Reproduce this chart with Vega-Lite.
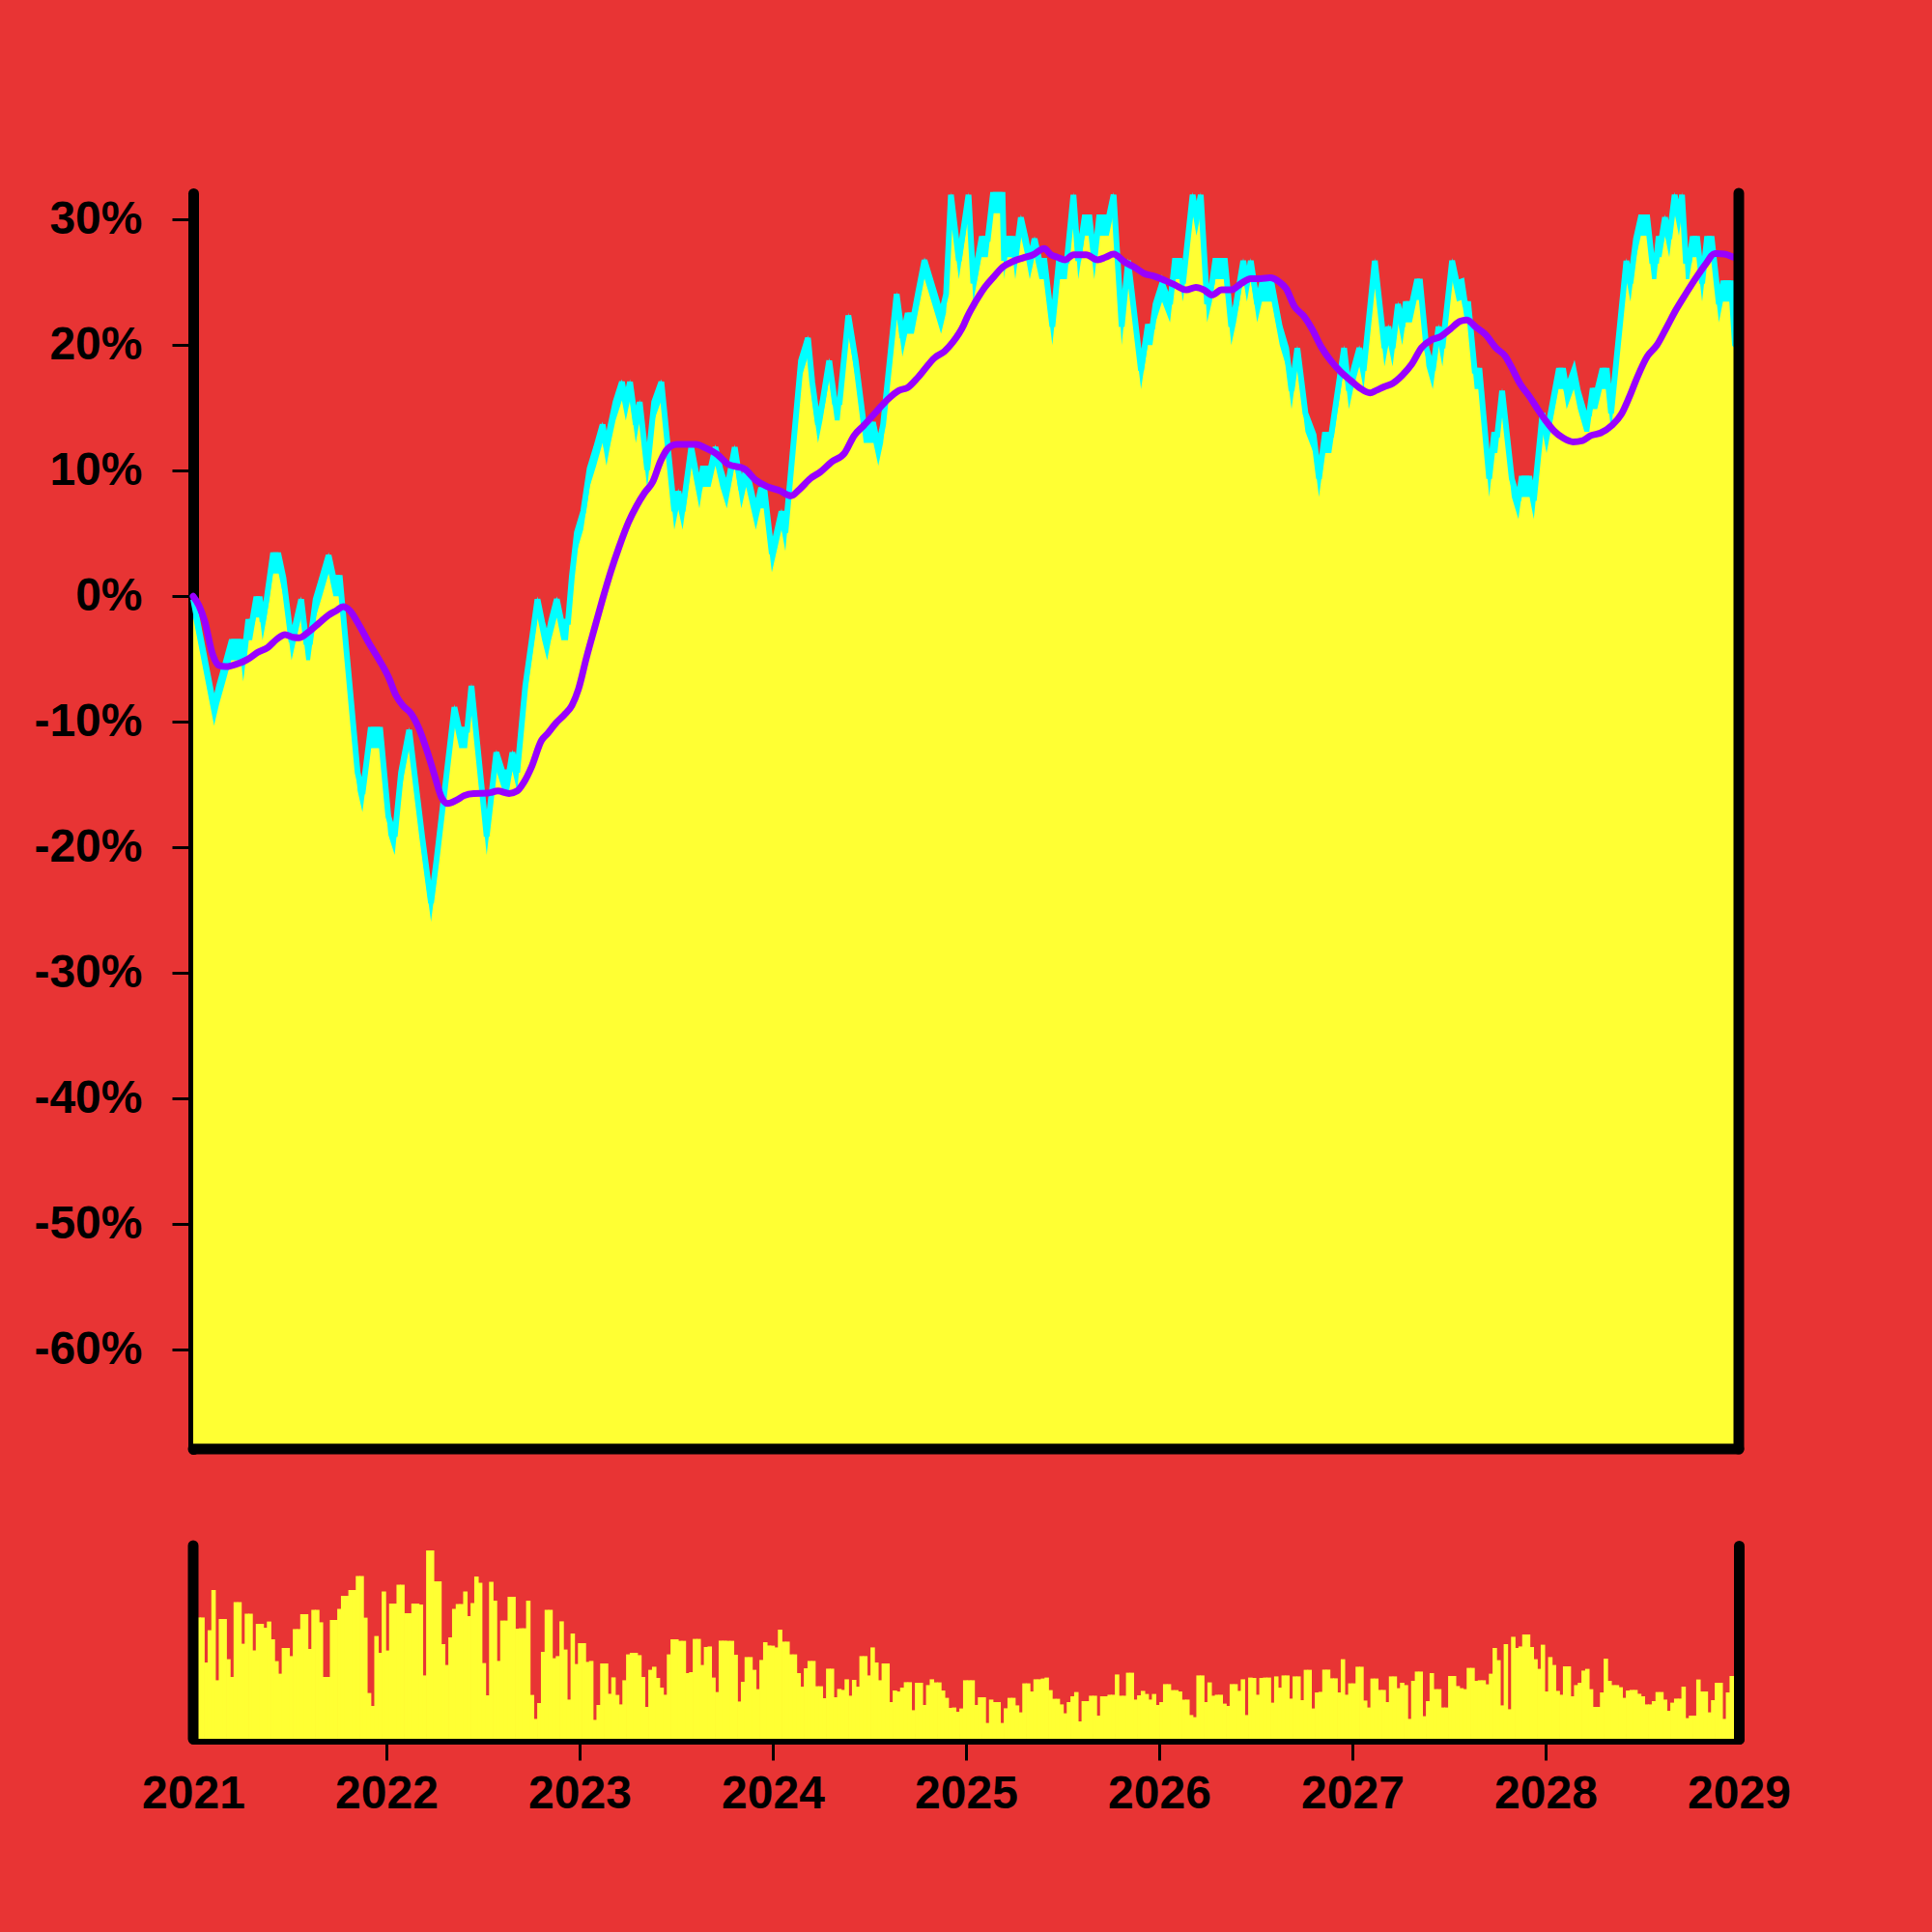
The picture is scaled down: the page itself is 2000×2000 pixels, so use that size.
{
"$schema": "https://vega.github.io/schema/vega-lite/v6.json",
"width": 1600, "height": 1600,
"autosize": {"type": "none"},
"padding": {"left": 200, "right": 200, "top": 200, "bottom": 200},
"background": "#E83434",
"config": {
 "view": {"stroke": null},
 "axis": {"domainColor": "black", "domainWidth": 11, "domainCap": "round", "tickColor": "black", "tickWidth": 3, "tickSize": 22, "labelFont": "Liberation Sans", "labelFontWeight": "bold", "labelFontSize": 48, "labelColor": "black", "grid": false, "title": null, "zindex": 1, "labelFlush": false}
},
"datasets": {
 "price": [
  {"t":2021.000,"p":0},{"t":2021.108,"p":-8.6},{"t":2021.134,"p":-6.9},{"t":2021.167,"p":-5.1},{"t":2021.197,"p":-3.4},{"t":2021.247,"p":-3.4},{"t":2021.259,"p":-5.1},{"t":2021.284,"p":-1.8},{"t":2021.305,"p":-1.8},{"t":2021.325,"p":0},{"t":2021.345,"p":0},{"t":2021.359,"p":-1.8},{"t":2021.380,"p":0},{"t":2021.412,"p":3.5},{"t":2021.442,"p":3.5},{"t":2021.467,"p":1.7},{"t":2021.509,"p":-3.4},{"t":2021.559,"p":0},{"t":2021.585,"p":-3.4},{"t":2021.605,"p":-3.4},{"t":2021.634,"p":0},{"t":2021.667,"p":1.7},{"t":2021.701,"p":3.5},{"t":2021.726,"p":1.7},{"t":2021.759,"p":1.7},{"t":2021.851,"p":-13.8},{"t":2021.876,"p":-15.5},{"t":2021.918,"p":-10.4},{"t":2021.968,"p":-10.4},{"t":2022.010,"p":-17.3},{"t":2022.043,"p":-18.9},{"t":2022.076,"p":-13.8},{"t":2022.118,"p":-10.4},{"t":2022.185,"p":-18.9},{"t":2022.231,"p":-24.2},{"t":2022.260,"p":-20.7},{"t":2022.352,"p":-8.6},{"t":2022.377,"p":-10.4},{"t":2022.418,"p":-10.4},{"t":2022.440,"p":-6.9},{"t":2022.519,"p":-18.9},{"t":2022.569,"p":-12.2},{"t":2022.602,"p":-13.8},{"t":2022.635,"p":-13.8},{"t":2022.652,"p":-12.2},{"t":2022.677,"p":-13.8},{"t":2022.719,"p":-6.9},{"t":2022.782,"p":0},{"t":2022.806,"p":-1.8},{"t":2022.832,"p":-3.4},{"t":2022.852,"p":-1.8},{"t":2022.882,"p":0},{"t":2022.906,"p":-1.8},{"t":2022.940,"p":-1.8},{"t":2022.960,"p":1.8},{"t":2022.986,"p":5.3},{"t":2023.019,"p":7.0},{"t":2023.052,"p":10.4},{"t":2023.086,"p":12.1},{"t":2023.119,"p":13.9},{"t":2023.139,"p":12.1},{"t":2023.161,"p":13.9},{"t":2023.186,"p":15.7},{"t":2023.219,"p":17.3},{"t":2023.239,"p":15.7},{"t":2023.261,"p":17.3},{"t":2023.291,"p":13.9},{"t":2023.311,"p":15.7},{"t":2023.350,"p":10.3},{"t":2023.386,"p":15.7},{"t":2023.423,"p":17.3},{"t":2023.490,"p":7.0},{"t":2023.511,"p":8.6},{"t":2023.533,"p":7.0},{"t":2023.578,"p":12.1},{"t":2023.620,"p":8.7},{"t":2023.637,"p":10.4},{"t":2023.678,"p":10.4},{"t":2023.703,"p":12.1},{"t":2023.728,"p":10.4},{"t":2023.762,"p":8.7},{"t":2023.803,"p":12.1},{"t":2023.837,"p":8.7},{"t":2023.862,"p":10.4},{"t":2023.912,"p":7.0},{"t":2023.937,"p":8.7},{"t":2023.957,"p":8.7},{"t":2023.995,"p":3.6},{"t":2024.020,"p":5.3},{"t":2024.045,"p":7.0},{"t":2024.065,"p":5.3},{"t":2024.146,"p":19.0},{"t":2024.182,"p":20.8},{"t":2024.204,"p":17.3},{"t":2024.234,"p":13.9},{"t":2024.257,"p":15.7},{"t":2024.292,"p":19.0},{"t":2024.321,"p":15.7},{"t":2024.346,"p":15.7},{"t":2024.391,"p":22.6},{"t":2024.429,"p":19.0},{"t":2024.471,"p":13.9},{"t":2024.521,"p":13.9},{"t":2024.546,"p":12.1},{"t":2024.571,"p":13.9},{"t":2024.641,"p":24.3},{"t":2024.671,"p":20.8},{"t":2024.696,"p":22.6},{"t":2024.730,"p":22.6},{"t":2024.751,"p":24.3},{"t":2024.785,"p":27.0},{"t":2024.838,"p":24.3},{"t":2024.871,"p":22.6},{"t":2024.897,"p":24.3},{"t":2024.922,"p":32.2},{"t":2024.963,"p":26.95},{"t":2025.013,"p":32.2},{"t":2025.038,"p":25.15},{"t":2025.080,"p":28.7},{"t":2025.113,"p":28.7},{"t":2025.139,"p":32.2},{"t":2025.189,"p":32.2},{"t":2025.197,"p":26.95},{"t":2025.210,"p":28.7},{"t":2025.242,"p":28.7},{"t":2025.255,"p":26.95},{"t":2025.284,"p":30.4},{"t":2025.309,"p":28.7},{"t":2025.330,"p":26.95},{"t":2025.355,"p":28.7},{"t":2025.380,"p":26.95},{"t":2025.406,"p":26.95},{"t":2025.447,"p":21.7},{"t":2025.481,"p":26.95},{"t":2025.522,"p":26.95},{"t":2025.556,"p":32.2},{"t":2025.581,"p":26.95},{"t":2025.614,"p":30.4},{"t":2025.639,"p":30.4},{"t":2025.664,"p":26.95},{"t":2025.689,"p":30.4},{"t":2025.739,"p":30.4},{"t":2025.764,"p":32.2},{"t":2025.806,"p":21.7},{"t":2025.839,"p":26.95},{"t":2025.906,"p":18.2},{"t":2025.940,"p":21.7},{"t":2025.965,"p":21.7},{"t":2025.981,"p":23.5},{"t":2026.015,"p":25.15},{"t":2026.056,"p":23.5},{"t":2026.081,"p":26.95},{"t":2026.106,"p":26.95},{"t":2026.123,"p":25.15},{"t":2026.173,"p":32.2},{"t":2026.193,"p":30.4},{"t":2026.215,"p":32.2},{"t":2026.248,"p":23.5},{"t":2026.273,"p":25.15},{"t":2026.290,"p":26.95},{"t":2026.340,"p":26.95},{"t":2026.373,"p":21.7},{"t":2026.398,"p":23.5},{"t":2026.435,"p":26.95},{"t":2026.454,"p":25.15},{"t":2026.474,"p":26.95},{"t":2026.507,"p":23.5},{"t":2026.532,"p":25.15},{"t":2026.582,"p":25.15},{"t":2026.624,"p":21.7},{"t":2026.657,"p":20.0},{"t":2026.685,"p":16.6},{"t":2026.715,"p":20.0},{"t":2026.757,"p":14.8},{"t":2026.799,"p":13.1},{"t":2026.827,"p":9.6},{"t":2026.857,"p":13.1},{"t":2026.891,"p":13.1},{"t":2026.907,"p":14.8},{"t":2026.957,"p":20.0},{"t":2026.982,"p":16.6},{"t":2027.004,"p":18.2},{"t":2027.036,"p":20.0},{"t":2027.058,"p":18.2},{"t":2027.116,"p":26.95},{"t":2027.166,"p":20.0},{"t":2027.186,"p":21.7},{"t":2027.208,"p":20.0},{"t":2027.236,"p":23.5},{"t":2027.258,"p":21.7},{"t":2027.275,"p":23.5},{"t":2027.308,"p":23.5},{"t":2027.333,"p":25.3},{"t":2027.350,"p":25.3},{"t":2027.383,"p":20.0},{"t":2027.416,"p":18.2},{"t":2027.446,"p":21.7},{"t":2027.466,"p":20.0},{"t":2027.516,"p":26.95},{"t":2027.541,"p":25.15},{"t":2027.566,"p":25.3},{"t":2027.583,"p":23.5},{"t":2027.600,"p":23.5},{"t":2027.633,"p":18.2},{"t":2027.658,"p":18.2},{"t":2027.708,"p":9.6},{"t":2027.733,"p":13.1},{"t":2027.750,"p":13.1},{"t":2027.775,"p":16.6},{"t":2027.825,"p":9.6},{"t":2027.859,"p":7.85},{"t":2027.875,"p":9.6},{"t":2027.917,"p":9.6},{"t":2027.939,"p":7.85},{"t":2027.984,"p":14.8},{"t":2028.005,"p":13.1},{"t":2028.026,"p":14.8},{"t":2028.067,"p":18.2},{"t":2028.092,"p":18.2},{"t":2028.109,"p":16.6},{"t":2028.146,"p":18.2},{"t":2028.167,"p":16.6},{"t":2028.201,"p":14.8},{"t":2028.226,"p":14.8},{"t":2028.242,"p":16.6},{"t":2028.267,"p":16.6},{"t":2028.292,"p":18.2},{"t":2028.317,"p":18.2},{"t":2028.339,"p":14.8},{"t":2028.418,"p":26.95},{"t":2028.439,"p":25.15},{"t":2028.468,"p":28.7},{"t":2028.493,"p":30.4},{"t":2028.526,"p":30.4},{"t":2028.551,"p":26.95},{"t":2028.573,"p":26.95},{"t":2028.584,"p":28.7},{"t":2028.600,"p":28.7},{"t":2028.618,"p":30.4},{"t":2028.640,"p":28.7},{"t":2028.668,"p":32.2},{"t":2028.690,"p":30.4},{"t":2028.706,"p":32.2},{"t":2028.726,"p":26.95},{"t":2028.743,"p":26.95},{"t":2028.760,"p":28.7},{"t":2028.785,"p":28.7},{"t":2028.810,"p":25.15},{"t":2028.835,"p":28.7},{"t":2028.860,"p":28.7},{"t":2028.897,"p":23.5},{"t":2028.918,"p":25.15},{"t":2028.960,"p":25.15},{"t":2028.980,"p":20.3},{"t":2029.000,"p":20.0}
 ],
 "ma": [
  {"t":2021.000,"m":0},{"t":2021.030,"m":-0.74},{"t":2021.060,"m":-2.0},{"t":2021.100,"m":-4.6},{"t":2021.133,"m":-5.5},{"t":2021.167,"m":-5.6},{"t":2021.242,"m":-5.3},{"t":2021.284,"m":-5.0},{"t":2021.334,"m":-4.46},{"t":2021.384,"m":-4.1},{"t":2021.434,"m":-3.4},{"t":2021.475,"m":-3.05},{"t":2021.517,"m":-3.26},{"t":2021.550,"m":-3.3},{"t":2021.600,"m":-2.8},{"t":2021.650,"m":-2.15},{"t":2021.700,"m":-1.5},{"t":2021.742,"m":-1.13},{"t":2021.776,"m":-0.82},{"t":2021.810,"m":-1.13},{"t":2021.859,"m":-2.3},{"t":2021.909,"m":-3.7},{"t":2021.960,"m":-5.0},{"t":2022.010,"m":-6.4},{"t":2022.050,"m":-7.9},{"t":2022.085,"m":-8.7},{"t":2022.126,"m":-9.3},{"t":2022.168,"m":-10.5},{"t":2022.210,"m":-12.3},{"t":2022.250,"m":-14.3},{"t":2022.285,"m":-16.0},{"t":2022.318,"m":-16.5},{"t":2022.360,"m":-16.26},{"t":2022.402,"m":-15.87},{"t":2022.452,"m":-15.7},{"t":2022.527,"m":-15.67},{"t":2022.577,"m":-15.5},{"t":2022.635,"m":-15.7},{"t":2022.677,"m":-15.5},{"t":2022.710,"m":-14.85},{"t":2022.752,"m":-13.56},{"t":2022.802,"m":-11.5},{"t":2022.836,"m":-10.9},{"t":2022.877,"m":-10.1},{"t":2022.919,"m":-9.46},{"t":2022.960,"m":-8.7},{"t":2022.994,"m":-7.4},{"t":2023.036,"m":-4.85},{"t":2023.078,"m":-2.5},{"t":2023.119,"m":-0.23},{"t":2023.161,"m":1.95},{"t":2023.203,"m":3.87},{"t":2023.253,"m":5.9},{"t":2023.295,"m":7.2},{"t":2023.336,"m":8.23},{"t":2023.378,"m":9.1},{"t":2023.420,"m":10.8},{"t":2023.453,"m":11.7},{"t":2023.503,"m":12.1},{"t":2023.553,"m":12.1},{"t":2023.603,"m":12.1},{"t":2023.653,"m":11.8},{"t":2023.712,"m":11.3},{"t":2023.770,"m":10.5},{"t":2023.853,"m":10.15},{"t":2023.912,"m":9.25},{"t":2023.970,"m":8.74},{"t":2024.037,"m":8.4},{"t":2024.095,"m":8.0},{"t":2024.137,"m":8.5},{"t":2024.196,"m":9.4},{"t":2024.246,"m":9.9},{"t":2024.304,"m":10.7},{"t":2024.371,"m":11.4},{"t":2024.421,"m":12.8},{"t":2024.471,"m":13.6},{"t":2024.530,"m":14.6},{"t":2024.596,"m":15.7},{"t":2024.654,"m":16.4},{"t":2024.696,"m":16.6},{"t":2024.755,"m":17.5},{"t":2024.838,"m":19.0},{"t":2024.888,"m":19.5},{"t":2024.930,"m":20.2},{"t":2024.988,"m":21.6},{"t":2025.005,"m":22.2},{"t":2025.047,"m":23.4},{"t":2025.097,"m":24.6},{"t":2025.147,"m":25.5},{"t":2025.189,"m":26.2},{"t":2025.247,"m":26.7},{"t":2025.297,"m":26.95},{"t":2025.347,"m":27.2},{"t":2025.405,"m":27.7},{"t":2025.439,"m":27.2},{"t":2025.472,"m":27.0},{"t":2025.514,"m":26.8},{"t":2025.556,"m":27.2},{"t":2025.622,"m":27.2},{"t":2025.681,"m":26.8},{"t":2025.723,"m":27.0},{"t":2025.764,"m":27.25},{"t":2025.823,"m":26.6},{"t":2025.873,"m":26.2},{"t":2025.923,"m":25.7},{"t":2025.973,"m":25.5},{"t":2026.031,"m":25.15},{"t":2026.081,"m":24.8},{"t":2026.140,"m":24.4},{"t":2026.190,"m":24.6},{"t":2026.232,"m":24.4},{"t":2026.273,"m":24.0},{"t":2026.323,"m":24.4},{"t":2026.373,"m":24.4},{"t":2026.423,"m":24.9},{"t":2026.474,"m":25.3},{"t":2026.524,"m":25.3},{"t":2026.574,"m":25.36},{"t":2026.624,"m":25.0},{"t":2026.657,"m":24.5},{"t":2026.699,"m":23.1},{"t":2026.749,"m":22.3},{"t":2026.791,"m":21.3},{"t":2026.841,"m":19.8},{"t":2026.891,"m":18.7},{"t":2026.941,"m":17.85},{"t":2026.990,"m":17.2},{"t":2027.041,"m":16.56},{"t":2027.091,"m":16.2},{"t":2027.124,"m":16.4},{"t":2027.166,"m":16.7},{"t":2027.208,"m":16.95},{"t":2027.258,"m":17.6},{"t":2027.308,"m":18.5},{"t":2027.358,"m":19.8},{"t":2027.408,"m":20.4},{"t":2027.458,"m":20.7},{"t":2027.508,"m":21.3},{"t":2027.558,"m":21.9},{"t":2027.591,"m":22.0},{"t":2027.642,"m":21.4},{"t":2027.692,"m":20.8},{"t":2027.742,"m":19.8},{"t":2027.792,"m":19.1},{"t":2027.825,"m":18.2},{"t":2027.867,"m":16.95},{"t":2027.917,"m":15.9},{"t":2027.959,"m":14.9},{"t":2028.000,"m":14.0},{"t":2028.042,"m":13.2},{"t":2028.092,"m":12.6},{"t":2028.142,"m":12.3},{"t":2028.192,"m":12.4},{"t":2028.234,"m":12.8},{"t":2028.284,"m":13.0},{"t":2028.342,"m":13.6},{"t":2028.392,"m":14.5},{"t":2028.434,"m":15.9},{"t":2028.476,"m":17.5},{"t":2028.526,"m":19.1},{"t":2028.576,"m":20.0},{"t":2028.626,"m":21.4},{"t":2028.676,"m":22.85},{"t":2028.726,"m":24.1},{"t":2028.776,"m":25.3},{"t":2028.826,"m":26.4},{"t":2028.876,"m":27.3},{"t":2028.926,"m":27.25},{"t":2028.976,"m":27.0},{"t":2029.000,"m":26.9}
 ],
 "vol": [
  {"w":0,"v":62.8},{"w":1,"v":62.8},{"w":2,"v":62.8},{"w":3,"v":39.5},{"w":4,"v":56.2},{"w":5,"v":77},{"w":6,"v":30.3},{"w":7,"v":62},{"w":8,"v":62},{"w":9,"v":41.2},
  {"w":10,"v":32},{"w":11,"v":70.8},{"w":12,"v":70.8},{"w":13,"v":49.2},{"w":14,"v":64.8},{"w":15,"v":64.8},{"w":16,"v":45.7},{"w":17,"v":59.5},{"w":18,"v":59.5},{"w":19,"v":57.5},
  {"w":20,"v":60.7},{"w":21,"v":51.5},{"w":22,"v":40.2},{"w":23,"v":33.7},{"w":24,"v":47},{"w":25,"v":47},{"w":26,"v":42.8},{"w":27,"v":56.8},{"w":28,"v":56.8},{"w":29,"v":64.5},
  {"w":30,"v":64.5},{"w":31,"v":46.5},{"w":32,"v":66.7},{"w":33,"v":66.7},{"w":34,"v":60.3},{"w":35,"v":32},{"w":36,"v":32},{"w":37,"v":61.5},{"w":38,"v":61.5},{"w":39,"v":67.2},
  {"w":40,"v":74},{"w":41,"v":74},{"w":42,"v":77},{"w":43,"v":77},{"w":44,"v":84.2},{"w":45,"v":84.2},{"w":46,"v":62.7},{"w":47,"v":23.7},{"w":48,"v":17},{"w":49,"v":53.2},
  {"w":50,"v":44.5},{"w":51,"v":76.3},{"w":52,"v":45.7},{"w":53,"v":70},{"w":54,"v":70},{"w":55,"v":79.8},{"w":56,"v":79.8},{"w":57,"v":65},{"w":58,"v":65},{"w":59,"v":70},
  {"w":60,"v":70},{"w":61,"v":69.5},{"w":62,"v":32.8},{"w":63,"v":97.5},{"w":64,"v":97.5},{"w":65,"v":81.5},{"w":66,"v":81.5},{"w":67,"v":49},{"w":68,"v":38.2},{"w":69,"v":52.5},
  {"w":70,"v":67.3},{"w":71,"v":69.8},{"w":72,"v":69.8},{"w":73,"v":76.2},{"w":74,"v":63.5},{"w":75,"v":70.3},{"w":76,"v":84},{"w":77,"v":80.8},{"w":78,"v":39.2},{"w":79,"v":22.5},
  {"w":80,"v":81.2},{"w":81,"v":71.5},{"w":82,"v":40.3},{"w":83,"v":61.2},{"w":84,"v":61.2},{"w":85,"v":73.5},{"w":86,"v":73.5},{"w":87,"v":57},{"w":88,"v":57.2},{"w":89,"v":57.2},
  {"w":90,"v":71.5},{"w":91,"v":22.7},{"w":92,"v":10.3},{"w":93,"v":18.5},{"w":94,"v":45},{"w":95,"v":66.8},{"w":96,"v":66.8},{"w":97,"v":41.7},{"w":98,"v":42.8},{"w":99,"v":60.8},
  {"w":100,"v":46.2},{"w":101,"v":20.3},
  {"w":102,"v":54.5},{"w":103,"v":38.7},{"w":104,"v":49.5},{"w":105,"v":49.5},{"w":106,"v":39.8},{"w":107,"v":40.3},{"w":108,"v":9.8},{"w":109,"v":17.5},{"w":110,"v":39},{"w":111,"v":39},
  {"w":112,"v":23.3},{"w":113,"v":31.8},{"w":114,"v":22.7},{"w":115,"v":17.8},{"w":116,"v":30.3},{"w":117,"v":43.7},{"w":118,"v":44.5},{"w":119,"v":44.5},{"w":120,"v":43.3},{"w":121,"v":32},
  {"w":122,"v":16.5},{"w":123,"v":35.7},{"w":124,"v":37.3},{"w":125,"v":31.5},{"w":126,"v":26.5},{"w":127,"v":22.8},{"w":128,"v":43.7},{"w":129,"v":51.5},{"w":130,"v":51.5},{"w":131,"v":50.7},
  {"w":132,"v":50.7},{"w":133,"v":34},{"w":134,"v":34.5},{"w":135,"v":51.7},{"w":136,"v":51.7},{"w":137,"v":38.2},{"w":138,"v":47.5},{"w":139,"v":47.8},{"w":140,"v":31.7},{"w":141,"v":24.2},
  {"w":142,"v":50.8},{"w":143,"v":50.8},{"w":144,"v":50.7},{"w":145,"v":50.7},{"w":146,"v":43.5},{"w":147,"v":19.3},{"w":148,"v":29.5},{"w":149,"v":42.3},{"w":150,"v":42.3},{"w":151,"v":35.7},
  {"w":152,"v":25.7},{"w":153,"v":40.8},{"w":154,"v":50},{"w":155,"v":48.3},{"w":156,"v":48.2},{"w":157,"v":47.3},{"w":158,"v":56.5},{"w":159,"v":50.3},{"w":160,"v":50.3},{"w":161,"v":43.7},
  {"w":162,"v":43.7},{"w":163,"v":34},{"w":164,"v":27},{"w":165,"v":36.5},{"w":166,"v":40.3},{"w":167,"v":40.3},{"w":168,"v":27.2},{"w":169,"v":27.2},{"w":170,"v":21},{"w":171,"v":36.3},
  {"w":172,"v":36.3},{"w":173,"v":21.5},{"w":174,"v":25.8},{"w":175,"v":25.3},{"w":176,"v":30.8},{"w":177,"v":22.3},{"w":178,"v":30.5},{"w":179,"v":27},{"w":180,"v":42.8},{"w":181,"v":42.8},
  {"w":182,"v":32.8},{"w":183,"v":47.3},{"w":184,"v":39.5},{"w":185,"v":30.3},{"w":186,"v":39},{"w":187,"v":39},{"w":188,"v":19},{"w":189,"v":25},{"w":190,"v":24.5},{"w":191,"v":26.5},
  {"w":192,"v":29.3},{"w":193,"v":29.3},{"w":194,"v":14.8},{"w":195,"v":29},{"w":196,"v":29},{"w":197,"v":17.5},{"w":198,"v":27.8},{"w":199,"v":30.8},{"w":200,"v":29.2},{"w":201,"v":29.2},
  {"w":202,"v":25},{"w":203,"v":21.2},{"w":204,"v":16},{"w":205,"v":16.2},
  {"w":206,"v":14},{"w":207,"v":15.7},{"w":208,"v":30.3},{"w":209,"v":30.3},{"w":210,"v":30.3},{"w":211,"v":17.5},{"w":212,"v":21.5},{"w":213,"v":21.5},{"w":214,"v":8.2},{"w":215,"v":20.3},
  {"w":216,"v":19},{"w":217,"v":19},{"w":218,"v":8.2},{"w":219,"v":15.8},{"w":220,"v":21.2},{"w":221,"v":21.2},{"w":222,"v":17.3},{"w":223,"v":13.7},{"w":224,"v":28.7},{"w":225,"v":28.7},
  {"w":226,"v":24.5},{"w":227,"v":30.8},{"w":228,"v":30.8},{"w":229,"v":31.2},{"w":230,"v":31.7},{"w":231,"v":25.2},{"w":232,"v":20.7},{"w":233,"v":20.7},{"w":234,"v":17.8},{"w":235,"v":13.2},
  {"w":236,"v":19},{"w":237,"v":22},{"w":238,"v":24.2},{"w":239,"v":9},{"w":240,"v":19.5},{"w":241,"v":19.5},{"w":242,"v":22.3},{"w":243,"v":22.3},{"w":244,"v":12},{"w":245,"v":22},
  {"w":246,"v":22},{"w":247,"v":22.8},{"w":248,"v":22.8},{"w":249,"v":33.3},{"w":250,"v":22.3},{"w":251,"v":22.3},{"w":252,"v":34.2},{"w":253,"v":34.2},{"w":254,"v":20.3},{"w":255,"v":22.5},
  {"w":256,"v":24.8},{"w":257,"v":23.2},{"w":258,"v":20.3},{"w":259,"v":23.2},{"w":260,"v":17.5},{"w":261,"v":19},{"w":262,"v":28.3},{"w":263,"v":28.3},{"w":264,"v":25.2},{"w":265,"v":25.2},
  {"w":266,"v":24.5},{"w":267,"v":20.3},{"w":268,"v":20.3},{"w":269,"v":12.3},{"w":270,"v":11.2},{"w":271,"v":32.8},{"w":272,"v":32.8},{"w":273,"v":19},{"w":274,"v":29.2},{"w":275,"v":22.3},
  {"w":276,"v":22.8},{"w":277,"v":22.8},{"w":278,"v":18.2},{"w":279,"v":17},{"w":280,"v":28.3},{"w":281,"v":28.3},{"w":282,"v":24.8},{"w":283,"v":30.8},{"w":284,"v":12.3},{"w":285,"v":31.7},
  {"w":286,"v":31.5},{"w":287,"v":22.8},{"w":288,"v":31.5},{"w":289,"v":31.7},{"w":290,"v":31.7},{"w":291,"v":18.7},{"w":292,"v":32.3},{"w":293,"v":26.5},{"w":294,"v":32.8},{"w":295,"v":32.8},
  {"w":296,"v":20.8},{"w":297,"v":32.3},{"w":298,"v":32.3},{"w":299,"v":20},{"w":300,"v":35.7},{"w":301,"v":35.7},{"w":302,"v":15.7},{"w":303,"v":24},{"w":304,"v":24.3},{"w":305,"v":35.8},
  {"w":306,"v":35.8},{"w":307,"v":31.3},{"w":308,"v":31.3},{"w":309,"v":24},
  {"w":310,"v":41.2},{"w":311,"v":22.8},{"w":312,"v":28.7},{"w":313,"v":28.7},{"w":314,"v":37.3},{"w":315,"v":37.3},{"w":316,"v":19.8},{"w":317,"v":16.2},{"w":318,"v":31.2},{"w":319,"v":31.2},
  {"w":320,"v":25.3},{"w":321,"v":25.3},{"w":322,"v":19},{"w":323,"v":32.3},{"w":324,"v":32.3},{"w":325,"v":26.2},{"w":326,"v":29},{"w":327,"v":27.8},{"w":328,"v":10.3},{"w":329,"v":30},
  {"w":330,"v":34.8},{"w":331,"v":34.8},{"w":332,"v":11.7},{"w":333,"v":19.5},{"w":334,"v":34},{"w":335,"v":25.7},{"w":336,"v":25.7},{"w":337,"v":16.2},{"w":338,"v":16.2},{"w":339,"v":32.5},
  {"w":340,"v":32.5},{"w":341,"v":27.3},{"w":342,"v":26.2},{"w":343,"v":25.7},{"w":344,"v":36.7},{"w":345,"v":36.7},{"w":346,"v":30},{"w":347,"v":30.3},{"w":348,"v":30.3},{"w":349,"v":28.2},
  {"w":350,"v":33.7},{"w":351,"v":47},{"w":352,"v":40.7},{"w":353,"v":17.3},{"w":354,"v":49},{"w":355,"v":15.3},{"w":356,"v":52.8},{"w":357,"v":47},{"w":358,"v":47.8},{"w":359,"v":54},
  {"w":360,"v":54},{"w":361,"v":47.5},{"w":362,"v":41.2},{"w":363,"v":36.2},{"w":364,"v":48.7},{"w":365,"v":24.5},{"w":366,"v":42.3},{"w":367,"v":38.2},{"w":368,"v":24.8},{"w":369,"v":22.8},
  {"w":370,"v":37.5},{"w":371,"v":37.5},{"w":372,"v":22},{"w":373,"v":27.8},{"w":374,"v":29},{"w":375,"v":35.3},{"w":376,"v":36.2},{"w":377,"v":25.7},{"w":378,"v":16.5},{"w":379,"v":16.5},
  {"w":380,"v":24},{"w":381,"v":41.5},{"w":382,"v":30},{"w":383,"v":27.8},{"w":384,"v":27.8},{"w":385,"v":26.7},{"w":386,"v":21.2},{"w":387,"v":25},{"w":388,"v":25.3},{"w":389,"v":25.3},
  {"w":390,"v":23.3},{"w":391,"v":22},{"w":392,"v":17.8},{"w":393,"v":17.8},{"w":394,"v":19.5},{"w":395,"v":24.2},{"w":396,"v":24.2},{"w":397,"v":20.3},{"w":398,"v":14.5},{"w":399,"v":18.7},
  {"w":400,"v":20.8},{"w":401,"v":20.8},{"w":402,"v":27},{"w":403,"v":10.7},{"w":404,"v":12},{"w":405,"v":12},{"w":406,"v":30.7},{"w":407,"v":24.5},{"w":408,"v":24.5},{"w":409,"v":13.7},
  {"w":410,"v":20},{"w":411,"v":29},{"w":412,"v":29},{"w":413,"v":10.3},{"w":414,"v":24},{"w":415,"v":32.5}
 ]
},
"resolve": {"scale": {"x": "independent", "y": "independent"}},
"layer": [
 {
  "layer": [
   {
    "data": {"name": "price"},
    "mark": {"type": "area", "color": "#00FFFF"},
    "encoding": {
     "x": {"field": "t", "type": "quantitative", "scale": {"domain": [2021, 2029], "nice": false, "zero": false, "padding": 0},
           "axis": {"values": [2021, 2022, 2023, 2024, 2025, 2026, 2027, 2028, 2029], "format": "d", "labelPadding": 11, "orient": "bottom",
                    "tickColor": {"condition": {"test": "datum.value == 2021 || datum.value == 2029", "value": "transparent"}, "value": "black"}}},
     "y": {"field": "p", "type": "quantitative", "scale": {"domain": [-67.9, 32.1], "range": [1300, 0], "nice": false, "zero": false},
           "axis": {"values": [-60, -50, -40, -30, -20, -10, 0, 10, 20, 30], "labelExpr": "datum.value + '%'", "labelPadding": 31, "orient": "left"}},
     "y2": {"datum": -67.9}
    }
   },
   {
    "data": {"name": "price"},
    "mark": {"type": "area", "color": "#FFFF33", "yOffset": 22},
    "encoding": {
     "x": {"field": "t", "type": "quantitative"},
     "y": {"field": "p", "type": "quantitative"},
     "y2": {"datum": -67.9}
    }
   },
   {
    "data": {"name": "price"},
    "mark": {"type": "line", "color": "#00FFFF", "strokeWidth": 6, "yOffset": 3},
    "encoding": {
     "x": {"field": "t", "type": "quantitative"},
     "y": {"field": "p", "type": "quantitative"}
    }
   },
   {
    "data": {"name": "ma"},
    "mark": {"type": "line", "color": "#9900FF", "strokeWidth": 7, "interpolate": "monotone", "strokeCap": "round"},
    "encoding": {
     "x": {"field": "t", "type": "quantitative"},
     "y": {"field": "m", "type": "quantitative"}
    }
   },
   {
    "data": {"values": [{}]},
    "mark": {"type": "rule", "color": "black", "strokeWidth": 11, "strokeCap": "round"},
    "encoding": {"x": {"datum": 2029}, "y": {"datum": 32.1}, "y2": {"datum": -67.9}}
   },
   {
    "data": {"values": [{}]},
    "mark": {"type": "rule", "color": "black", "strokeWidth": 11, "strokeCap": "round"},
    "encoding": {"x": {"datum": 2021}, "x2": {"datum": 2029}, "y": {"datum": -67.9}}
   }
  ]
 },
 {
  "layer": [
   {
    "data": {"name": "vol"},
    "mark": {"type": "bar", "color": "#FFFF33", "width": 4.6},
    "encoding": {
     "x": {"field": "w", "type": "quantitative", "scale": {"domain": [-0.5, 416.9], "nice": false, "zero": false, "padding": 0}, "axis": null},
     "y": {"field": "v", "type": "quantitative", "scale": {"domain": [0, 100], "range": [1600, 1400], "nice": false, "zero": true},
           "axis": {"orient": "right", "labels": false, "ticks": false}}
    }
   },
   {
    "data": {"values": [{}]},
    "mark": {"type": "rule", "color": "black", "strokeWidth": 11, "strokeCap": "round"},
    "encoding": {"x": {"datum": -0.5}, "y": {"datum": 0}, "y2": {"datum": 100}}
   }
  ]
 }
]
}
